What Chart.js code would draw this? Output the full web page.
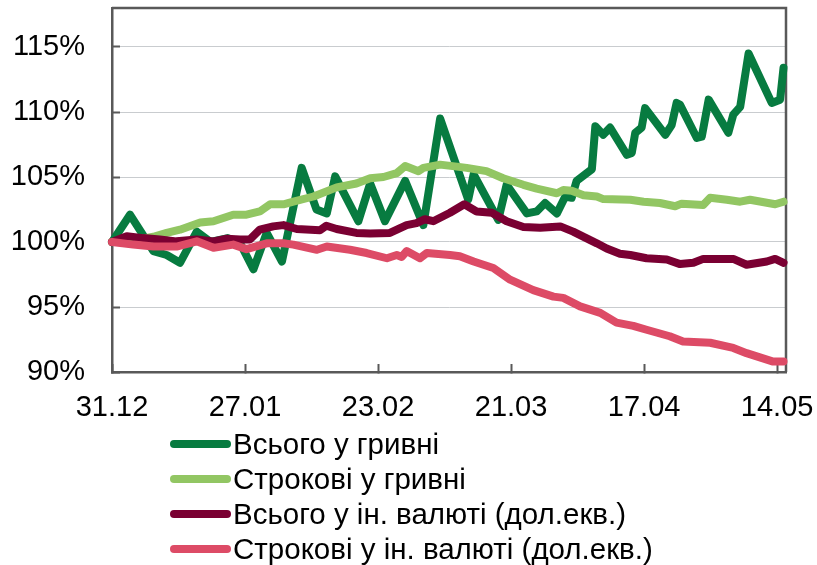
<!DOCTYPE html>
<html lang="uk">
<head>
<meta charset="utf-8">
<title>Депозити</title>
<script src="https://cdn.jsdelivr.net/npm/chart.js@4.4.1/dist/chart.umd.min.js"></script>
<style>
    html, body { margin: 0; padding: 0; background: #fff; }
    #wrap { position: relative; width: 817px; height: 565px; }
    #legend {
        position: absolute; left: 170px; top: 426px;
        font-family: 'Liberation Sans', Arial, sans-serif; font-size: 29.5px; color: #000;
    }
    .row { display: flex; align-items: center; height: 35px; white-space: nowrap; }
    .swatch { display: inline-block; width: 61px; height: 8px; border-radius: 4px; margin-right: 2px; }
</style>
</head>
<body>
<div id="wrap">
    <canvas id="depositChart" width="817" height="565"></canvas>
    <div id="legend"></div>
</div>
<script>
// x = days from 31.12
const tickDays = [0, 27, 54, 81, 108, 135];
const tickLabels = ['31.12', '27.01', '23.02', '21.03', '17.04', '14.05'];

// Всього у гривні
const totalUahDays = [0, 3.65, 8.4, 11.1, 13.8, 17.2, 20, 23.5, 26, 28.7, 31.4, 34.5, 38.5, 41.5, 43.6, 45.3, 50, 52.4, 55.4, 59.5,
    63.2, 66.6, 72.3, 73.4, 78.4, 80.1, 84.2, 86.2, 87.9, 90.3, 92, 93.3, 94.3, 97.4, 98.1, 99.7, 101.1, 104.5, 105.5, 106.2,
    107.5, 108.2, 112.3, 113.6, 114.6, 115.3, 118.7, 119.7, 121.1, 125.1, 126.1, 127.5, 129.2, 133.9, 135.6, 136.3];
const totalUahVals = [100, 102.1, 99.3, 99.0, 98.4, 100.8, 100.0, 100.3, 99.9, 97.9, 100.7, 98.5, 105.7, 102.5, 102.2, 105.05, 101.6, 104.5, 101.6, 104.7,
    101.3, 109.5, 103.25, 105.2, 101.7, 104.4, 102.2, 102.35, 103.0, 102.2, 103.5, 103.4, 104.7, 105.6, 108.9, 108.25, 108.8, 106.7, 106.85, 108.4,
    108.8, 110.3, 108.25, 109.0, 110.7, 110.55, 108.0, 108.1, 110.95, 108.4, 109.8, 110.4, 114.5, 110.7, 110.95, 113.4];

// Строкові у гривні
const termUahDays = [0, 4, 8.4, 11.1, 13.8, 17.9, 20.6, 24.6, 27.3, 30, 32.1, 34.8, 36.8, 40.9, 45.6, 49.6, 52.4, 55.1, 57.8, 59.5,
    62.2, 63.2, 66.6, 70, 72, 76, 79.4, 83.5, 86.2, 90.3, 91.6, 93.3, 95.7, 98.4, 99.7, 105.2, 107.9, 111.2, 114.3, 115.6,
    120, 121.4, 124.8, 127.5, 129.5, 134.6, 136.3];
const termUahVals = [100, 100.1, 100.4, 100.7, 100.95, 101.5, 101.6, 102.1, 102.1, 102.35, 102.9, 102.9, 103.1, 103.5, 104.2, 104.5, 104.9, 105.0, 105.3, 105.85,
    105.45, 105.7, 105.95, 105.8, 105.7, 105.45, 104.9, 104.4, 104.1, 103.75, 104.0, 103.95, 103.6, 103.5, 103.3, 103.25, 103.1, 103.0, 102.75, 102.95,
    102.85, 103.4, 103.25, 103.1, 103.25, 102.9, 103.1];

// Всього у ін. валюті (дол.екв.)
const totalFxDays = [0, 3, 6.3, 9.7, 13.1, 17.2, 20.6, 23.3, 26, 28, 30, 32.7, 34.8, 37.5, 42.2, 43.5, 45.6, 49.6, 52.4, 56.4,
    59.8, 61.8, 63.5, 65.2, 68.6, 71.5, 74, 77.1, 80.1, 83.5, 86.9, 91, 93.6, 98.4, 100.4, 103.1, 105.2, 108.5, 112.6, 115.3,
    118, 120, 126.1, 128.8, 132.9, 134.6, 136.3];
const totalFxVals = [100, 100.45, 100.3, 100.2, 100.05, 100.2, 100.05, 100.25, 100.2, 100.2, 100.95, 101.2, 101.3, 101.0, 100.9, 101.25, 101.0, 100.7, 100.65, 100.7,
    101.3, 101.45, 101.75, 101.6, 102.25, 102.9, 102.35, 102.25, 101.6, 101.15, 101.1, 101.2, 100.8, 99.9, 99.5, 99.1, 99.0, 98.75, 98.65, 98.3,
    98.4, 98.7, 98.7, 98.25, 98.5, 98.7, 98.4];

// Строкові у ін. валюті (дол.екв.)
const termFxDays = [0, 4.3, 8.4, 13.1, 17.2, 20.6, 24.6, 27.3, 31.4, 34.8, 36.8, 41.6, 43.6, 48.3, 51.7, 55.8, 57.8, 58.8, 59.8, 62.5,
    63.9, 68.6, 70.6, 73.4, 77.4, 80.8, 85.5, 89.6, 91.6, 95, 99.1, 102.4, 105.8, 108.5, 113.2, 115.9, 121.4, 126.1, 128.8, 134.2, 136.3];
const termFxVals = [100, 99.8, 99.65, 99.65, 100.05, 99.55, 99.8, 99.45, 99.9, 99.9, 99.8, 99.4, 99.65, 99.4, 99.15, 98.75, 99.0, 98.85, 99.3, 98.75,
    99.15, 99.0, 98.9, 98.5, 98.0, 97.1, 96.3, 95.8, 95.7, 95.05, 94.55, 93.8, 93.55, 93.25, 92.75, 92.35, 92.25, 91.85, 91.45, 90.8, 90.8];

const seriesNames = ['Всього у гривні', 'Строкові у гривні', 'Всього у ін. валюті (дол.екв.)', 'Строкові у ін. валюті (дол.екв.)'];
const seriesColors = ['#077B40', '#92C663', '#7A0032', '#DD4B66'];

const axisColor = '#595959';
const gridColor = '#c9cccf';
const font = { family: "'Liberation Sans', Arial, sans-serif", size: 29 };

function toPoints(days, vals) {
    return days.map((d, i) => ({ x: d, y: vals[i] }));
}

document.addEventListener('DOMContentLoaded', () => {
    const ctx = document.getElementById('depositChart').getContext('2d');
    const allSeries = [
        toPoints(totalUahDays, totalUahVals),
        toPoints(termUahDays, termUahVals),
        toPoints(totalFxDays, totalFxVals),
        toPoints(termFxDays, termFxVals)
    ];

    // top and right sides of the frame (Chart.js draws only left / bottom)
    const framePlugin = {
        id: 'frame',
        beforeDatasetsDraw(chart) {
            const { ctx, chartArea: a } = chart;
            ctx.save();
            ctx.strokeStyle = axisColor;
            ctx.lineWidth = 2.5;
            ctx.beginPath();
            ctx.moveTo(a.left, a.top);
            ctx.lineTo(a.right, a.top);
            ctx.lineTo(a.right, a.bottom);
            ctx.stroke();
            ctx.restore();
        }
    };

    const chart = new Chart(ctx, {
        type: 'line',
        data: {
            datasets: allSeries.map((pts, i) => ({
                label: seriesNames[i],
                data: pts,
                borderColor: seriesColors[i],
                backgroundColor: seriesColors[i],
                borderWidth: 8,
                borderJoinStyle: 'round',
                borderCapStyle: 'round',
                pointRadius: 0,
                tension: 0,
                clip: false,
                order: 4 - i // later series drawn on top
            }))
        },
        options: {
            responsive: false,
            animation: false,
            layout: { padding: { top: 8, right: 31, left: 0, bottom: 143 } },
            scales: {
                x: {
                    type: 'linear',
                    min: 0,
                    max: 136.8,
                    afterBuildTicks: (scale) => { scale.ticks = tickDays.map(v => ({ value: v })); },
                    afterFit: (scale) => { scale.height = 50; scale.paddingLeft = 0; scale.paddingRight = 0; },
                    ticks: {
                        color: '#000',
                        font: font,
                        padding: 27,
                        maxRotation: 0,
                        callback: (v, i) => tickLabels[i]
                    },
                    grid: { drawOnChartArea: false, tickLength: -8, tickColor: axisColor, tickWidth: 2 },
                    border: { color: axisColor, width: 2.5 }
                },
                y: {
                    min: 90,
                    max: 118,
                    afterBuildTicks: (scale) => { scale.ticks = scale.ticks.filter(t => t.value % 5 === 0); },
                    afterFit: (scale) => { scale.width = 112; scale.paddingTop = 0; scale.paddingBottom = 0; },
                    ticks: {
                        stepSize: 5,
                        color: '#000',
                        font: font,
                        padding: 35,
                        callback: (v) => v + '%'
                    },
                    grid: { color: gridColor, lineWidth: 1, tickLength: -8, tickColor: axisColor, tickWidth: 2 },
                    border: { color: axisColor, width: 2.5 }
                }
            },
            plugins: {
                legend: { display: false },
                tooltip: { enabled: false }
            }
        },
        plugins: [framePlugin]
    });

    // Legend (one entry per row, below the plot)
    const legendEl = document.getElementById('legend');
    chart.data.datasets.forEach(ds => {
        const row = document.createElement('div');
        row.className = 'row';
        const sw = document.createElement('span');
        sw.className = 'swatch';
        sw.style.background = ds.borderColor;
        const txt = document.createElement('span');
        txt.textContent = ds.label;
        row.appendChild(sw);
        row.appendChild(txt);
        legendEl.appendChild(row);
    });
});
</script>
</body>
</html>
